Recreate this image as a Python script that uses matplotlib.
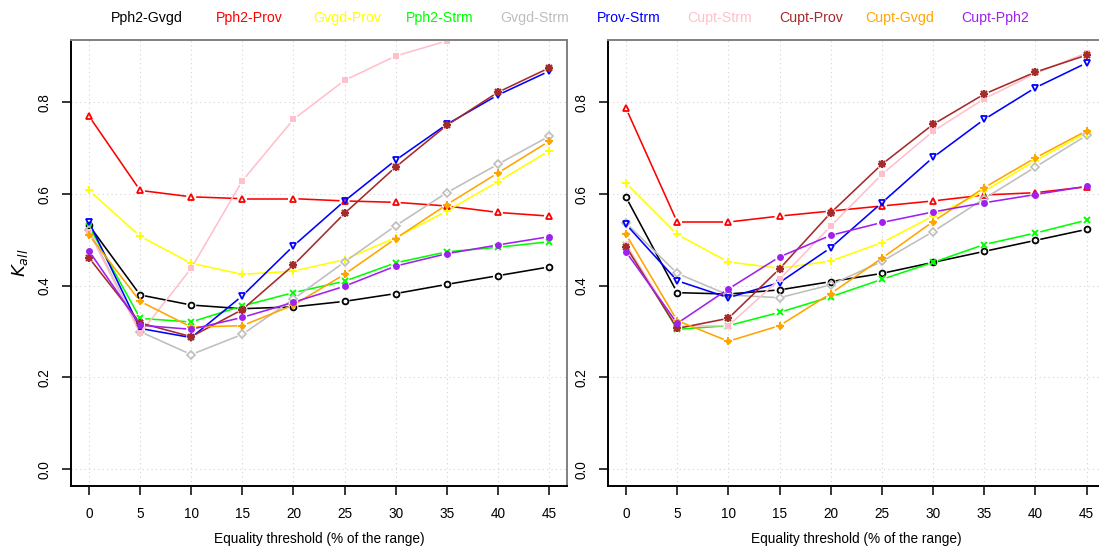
import numpy as np
import matplotlib
matplotlib.use("Agg")
import matplotlib.pyplot as plt

plt.rcParams['font.family'] = ['Liberation Sans', 'DejaVu Sans']

thresholds = [0, 5, 10, 15, 20, 25, 30, 35, 40, 45]

pair_names = ["Pph2-Gvgd", "Pph2-Prov", "Gvgd-Prov", "Pph2-Strm", "Gvgd-Strm",
              "Prov-Strm", "Cupt-Strm", "Cupt-Prov", "Cupt-Gvgd", "Cupt-Pph2"]
pair_colors = ["black", "red", "yellow", "#00FF00", "#BEBEBE",
               "blue", "pink", "#A52A2A", "orange", "#A020F0"]

# left panel: K_all per pair of predictors
left_pph2_gvgd = [0.532, 0.380, 0.358, 0.350, 0.354, 0.366, 0.383, 0.403, 0.422, 0.441]
left_pph2_prov = [0.770, 0.608, 0.594, 0.590, 0.590, 0.585, 0.582, 0.574, 0.560, 0.552]
left_gvgd_prov = [0.608, 0.508, 0.449, 0.425, 0.432, 0.457, 0.505, 0.563, 0.627, 0.694]
left_pph2_strm = [0.530, 0.329, 0.321, 0.356, 0.385, 0.410, 0.450, 0.474, 0.484, 0.496]
left_gvgd_strm = [0.522, 0.300, 0.250, 0.294, 0.371, 0.452, 0.531, 0.603, 0.665, 0.726]
left_prov_strm = [0.539, 0.307, 0.287, 0.378, 0.487, 0.585, 0.674, 0.752, 0.816, 0.868]
left_cupt_strm = [0.518, 0.296, 0.438, 0.629, 0.763, 0.848, 0.901, 0.934, 0.965, 0.985]
left_cupt_prov = [0.461, 0.319, 0.289, 0.348, 0.445, 0.558, 0.659, 0.750, 0.822, 0.875]
left_cupt_gvgd = [0.511, 0.366, 0.310, 0.313, 0.358, 0.425, 0.503, 0.577, 0.646, 0.715]
left_cupt_pph2 = [0.476, 0.314, 0.305, 0.331, 0.364, 0.399, 0.443, 0.470, 0.489, 0.507]

# right panel
right_pph2_gvgd = [0.593, 0.385, 0.382, 0.391, 0.409, 0.427, 0.451, 0.475, 0.499, 0.523]
right_pph2_prov = [0.787, 0.539, 0.539, 0.552, 0.563, 0.574, 0.585, 0.598, 0.603, 0.616]
right_gvgd_prov = [0.624, 0.512, 0.452, 0.438, 0.454, 0.494, 0.552, 0.606, 0.673, 0.734]
right_pph2_strm = [0.490, 0.305, 0.313, 0.342, 0.376, 0.414, 0.451, 0.490, 0.515, 0.543]
right_gvgd_strm = [0.537, 0.427, 0.380, 0.374, 0.402, 0.453, 0.518, 0.590, 0.659, 0.728]
right_prov_strm = [0.534, 0.411, 0.374, 0.407, 0.483, 0.581, 0.680, 0.763, 0.832, 0.886]
right_cupt_strm = [0.490, 0.312, 0.313, 0.414, 0.530, 0.643, 0.737, 0.808, 0.863, 0.908]
right_cupt_prov = [0.485, 0.307, 0.329, 0.437, 0.559, 0.665, 0.752, 0.818, 0.866, 0.903]
right_cupt_gvgd = [0.512, 0.324, 0.279, 0.313, 0.383, 0.460, 0.540, 0.614, 0.679, 0.738]
right_cupt_pph2 = [0.474, 0.318, 0.393, 0.463, 0.510, 0.538, 0.561, 0.581, 0.599, 0.617]

left_series = [left_pph2_gvgd, left_pph2_prov, left_gvgd_prov, left_pph2_strm, left_gvgd_strm,
               left_prov_strm, left_cupt_strm, left_cupt_prov, left_cupt_gvgd, left_cupt_pph2]
right_series = [right_pph2_gvgd, right_pph2_prov, right_gvgd_prov, right_pph2_strm, right_gvgd_strm,
                right_prov_strm, right_cupt_strm, right_cupt_prov, right_cupt_gvgd, right_cupt_pph2]

y_ticks = [0.0, 0.2, 0.4, 0.6, 0.8]
x_ticks = thresholds

# marker style per pair (R-like plotting symbols)
marker_styles = [
    [dict(marker='o', ms=4.2, mfc='none', mew=1.3)],
    [dict(marker='^', ms=4.6, mfc='none', mew=1.3)],
    [dict(marker='+', ms=6.0, mew=1.4)],
    [dict(marker='x', ms=4.4, mew=1.4)],
    [dict(marker='D', ms=3.8, mfc='none', mew=1.2)],
    [dict(marker='v', ms=4.6, mfc='none', mew=1.3)],
    [dict(marker='s', ms=5.0, mew=0)],
    [dict(marker='+', ms=6.0, mew=1.6), dict(marker='x', ms=4.6, mew=1.6),
     dict(marker='o', ms=3.0, mew=0)],
    [dict(marker='P', ms=6.0, mew=0), dict(marker='o', ms=4.0, mew=0)],
    [dict(marker='o', ms=5.0, mew=0)],
]

W, H = 1099, 547
fig = plt.figure(figsize=(W / 100, H / 100), dpi=100)

xlim = (-1.8, 46.8)
ylim = (-0.036, 0.936)


def px_axes(x0, x1, y0, y1):
    return fig.add_axes([x0 / W, 1 - y1 / H, (x1 - x0) / W, (y1 - y0) / H])


def draw_pair(ax, x, y, color, styles, gap=5.0):
    # connecting segments stop short of each point, like type="b"
    pts = ax.transData.transform(np.column_stack([x, y]))
    inv = ax.transData.inverted()
    for p0, p1 in zip(pts[:-1], pts[1:]):
        d = p1 - p0
        L = np.hypot(*d)
        if L <= 2 * gap:
            continue
        u = d / L
        a, b = inv.transform(np.vstack([p0 + u * gap, p1 - u * gap]))
        ax.plot([a[0], b[0]], [a[1], b[1]], color=color, lw=1.15,
                solid_capstyle='butt')
    for st in styles:
        ax.plot(x, y, linestyle='none', color=color, mec=color,
                mfc=st.get('mfc', color), marker=st['marker'], ms=st['ms'],
                mew=st['mew'])


def setup_panel(ax, series):
    ax.set_xlim(*xlim)
    ax.set_ylim(*ylim)
    ax.set_xticks(x_ticks)
    ax.set_yticks(y_ticks)
    ax.set_yticklabels([f"{v:.1f}" for v in y_ticks], rotation=90, va='center')
    ax.tick_params(axis='both', direction='out', length=6.5, width=1.1,
                   labelsize=9.8, color='black')
    ax.tick_params(axis='x', pad=9)
    ax.tick_params(axis='y', pad=7)
    for v in y_ticks:
        ax.axhline(v, color='#D3D3D3', lw=0.8, ls=(0, (1, 3)), zorder=0)
    for v in x_ticks:
        ax.axvline(v, color='#D3D3D3', lw=0.8, ls=(0, (1, 3)), zorder=0)
    for side in ('left', 'bottom'):
        ax.spines[side].set_color('black')
        ax.spines[side].set_linewidth(1.4)
    for side in ('top', 'right'):
        ax.spines[side].set_color('#808080')
        ax.spines[side].set_linewidth(1.4)
    ax.set_xlabel("Equality threshold (% of the range)", fontsize=9.8, labelpad=7.5)
    for vals, color, styles in zip(series, pair_colors, marker_styles):
        draw_pair(ax, thresholds, vals, color, styles)


ax_left = px_axes(70.6, 567.4, 40.0, 485.7)
ax_right = px_axes(607.6, 1105.0, 40.0, 485.7)

setup_panel(ax_left, left_series)
setup_panel(ax_right, right_series)

ax_left.set_ylabel(r"$K_{all}$", fontsize=13, labelpad=6)

# colored text legend across the top
legend_x = [147, 249, 347, 440, 535, 629, 720, 811, 900, 995]
for name, color, lx in zip(pair_names, pair_colors, legend_x):
    fig.text(lx / W, 1 - 18 / H, name, color=color, fontsize=10.2,
             ha='center', va='center')

fig.savefig("out.png", dpi=100)
